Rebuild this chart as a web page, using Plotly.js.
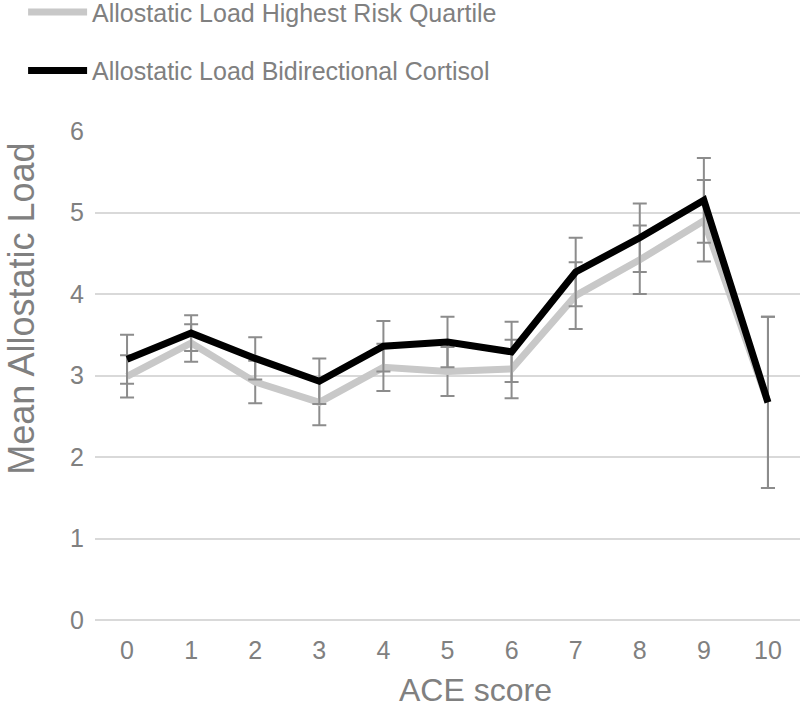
<!DOCTYPE html>
<html>
<head>
<meta charset="utf-8">
<script src="https://cdn.plot.ly/plotly-3.0.1.min.js"></script>
<style>html,body{margin:0;padding:0;background:#fff;}#chart{width:800px;height:713px;}</style>
</head>
<body>
<div id="chart"></div>
<script>
var aceScores = ['0','1','2','3','4','5','6','7','8','9','10'];
var highestRiskQuartile = [2.99, 3.40, 2.92, 2.67, 3.10, 3.05, 3.08, 3.98, 4.42, 4.90, 2.67];
var highestRiskErr = [0.26, 0.23, 0.26, 0.28, 0.29, 0.30, 0.36, 0.41, 0.42, 0.50, 1.05];
var bidirectionalCortisol = [3.20, 3.52, 3.21, 2.93, 3.36, 3.41, 3.29, 4.27, 4.69, 5.15, 2.67];
var bidirectionalErr = [0.30, 0.22, 0.26, 0.28, 0.31, 0.31, 0.37, 0.42, 0.42, 0.52, 1.05];
var yTicks = [0, 1, 2, 3, 4, 5, 6];
var xTitle = 'ACE score';
var yTitle = 'Mean Allostatic Load';

var gray = '#808080';
var traces = [
  {
    x: aceScores, y: highestRiskQuartile, type: 'scatter', mode: 'lines',
    name: 'Allostatic Load Highest Risk Quartile', legendgroup: 'a',
    line: {color: '#c8c8c8', width: 7},
    error_y: {type: 'data', array: highestRiskErr, visible: true, color: '#8c8c8c', thickness: 2, width: 7}
  },
  {
    x: aceScores, y: bidirectionalCortisol, type: 'scatter', mode: 'lines',
    name: 'Allostatic Load Bidirectional Cortisol', legendgroup: 'b',
    line: {color: '#000000', width: 7},
    error_y: {type: 'data', array: bidirectionalErr, visible: true, color: '#8c8c8c', thickness: 2, width: 7}
  }
];

var layout = {
  width: 800, height: 713,
  margin: {l: 95, r: 0, t: 131, b: 93, autoexpand: false},
  paper_bgcolor: '#fff', plot_bgcolor: '#fff',
  font: {family: 'Liberation Sans, Arial, sans-serif', color: gray},
  showlegend: true,
  legend: {
    x: -0.102, y: 1.29, xanchor: 'left', yanchor: 'top',
    font: {size: 25, color: gray},
    traceorder: 'grouped', tracegroupgap: 23, itemwidth: 59,
    bgcolor: 'rgba(0,0,0,0)'
  },
  xaxis: {
    type: 'category', range: [-0.5, 10.5],
    showgrid: false, zeroline: false, showline: false, ticks: '',
    tickfont: {size: 25, color: gray}, ticklabelstandoff: 13
  },
  yaxis: {
    range: [0, 6], tickvals: yTicks, ticktext: yTicks.map(String),
    showgrid: true, gridcolor: '#d9d9d9', gridwidth: 2,
    zeroline: true, zerolinecolor: '#d9d9d9', zerolinewidth: 2, showline: false, ticks: '',
    tickfont: {size: 25, color: gray}, ticklabelstandoff: 10
  },
  annotations: [
    {text: xTitle, xref: 'paper', yref: 'paper', x: 0.540, y: -0.143,
     xanchor: 'center', yanchor: 'middle', showarrow: false,
     font: {size: 32, color: gray}},
    {text: yTitle, xref: 'paper', yref: 'paper', x: -0.104, y: 0.636,
     xanchor: 'center', yanchor: 'middle', showarrow: false, textangle: -90,
     font: {size: 36, color: gray}}
  ]
};

Plotly.newPlot('chart', traces, layout, {displayModeBar: false, staticPlot: true});
</script>
</body>
</html>
